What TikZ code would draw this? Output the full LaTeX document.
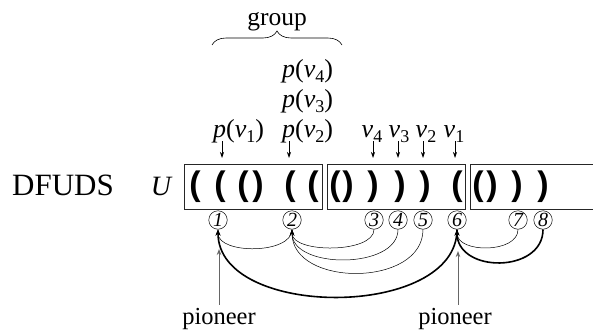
\documentclass[tikz,border=0pt]{standalone}
\usepackage{fontspec}
\setmainfont{Liberation Serif}
\newfontfamily\parfont{Liberation Sans}
\usetikzlibrary{arrows.meta,decorations.pathreplacing}
\newcommand{\sbx}[1]{\raisebox{-0.22em}{\fontsize{18}{20}\selectfont\upshape #1}}
\begin{document}
\begin{tikzpicture}[x=1pt,y=-1pt,
  lbl/.style={font=\fontsize{24.5}{28}\selectfont, inner sep=0, anchor=base},
  ilbl/.style={font=\fontsize{26}{30}\selectfont, inner sep=0},
  par/.style={font=\parfont\bfseries\fontsize{34}{40}\selectfont, inner sep=0},
  num/.style={draw, circle, minimum size=18.5, inner sep=0, font=\itshape\fontsize{20}{20}\selectfont, line width=0.5},
  thinarc/.style={line width=0.5, -{Stealth[length=6,width=4.5]}},
  thickarc/.style={line width=1.6, -{Stealth[length=6,width=5]}},
  ptr/.style={line width=0.7, -{Stealth[length=6,width=4]}},
  pion/.style={line width=1, draw=black!60, -{Stealth[length=6,width=4.5]}},
  boxline/.style={draw=black!85, line width=0.8}
]
\useasboundingbox (0,0) rectangle (593,332);
% labels
\node[lbl, font=\fontsize{31}{34}\selectfont] (dfuds) at (63,195) {DFUDS};
\node[lbl, font=\itshape\fontsize{28}{30}\selectfont] (U) at (161,195) {U};
\node[lbl, font=\fontsize{25.5}{28}\selectfont] (group) at (277,25) {group};
\draw[line width=0.6, decorate, decoration={brace, amplitude=14}] (212,45) -- (342,45);
\node[ilbl, anchor=base west] (pv4) at (282,77) {\textit{p}(\textit{v}\sbx{4})};
\node[ilbl, anchor=base west] (pv3) at (282,107) {\textit{p}(\textit{v}\sbx{3})};
\node[ilbl, anchor=base west] (pv2) at (282,137) {\textit{p}(\textit{v}\sbx{2})};
\node[ilbl, anchor=base west] (pv1) at (213,137) {\textit{p}(\textit{v}\sbx{1})};
\node[ilbl, anchor=base] (v4) at (372,137) {\textit{v}\sbx{4}};
\node[ilbl, anchor=base] (v3) at (399,137) {\textit{v}\sbx{3}};
\node[ilbl, anchor=base] (v2) at (426,137) {\textit{v}\sbx{2}};
\node[ilbl, anchor=base] (v1) at (454,137) {\textit{v}\sbx{1}};
% pointer arrows
\foreach \n/\x in {a/222,b/289,c/373,d/398,e/423,f/455}{
  \coordinate (\n s) at (\x,141);
  \coordinate (\n t) at (\x,158);
  \draw[ptr] (\n s) -- (\n t);
}
% boxes
\draw[boxline] (184,164) rectangle (322,209);
\draw[boxline] (327,164) rectangle (465,209);
\draw[boxline] (600,164) -- (470,164) -- (470,209) -- (600,209);
% parentheses
\foreach \n/\x/\c in {q1/195/(,q2/220/(,q3/243/(,q4/258/),q5/290/(,q6/313/(,
  q7/335/(,q8/348/),q9/373/),q10/400/),q11/425/),q12/457/(,
  q13/478/(,q14/492/),q15/517/),q16/543/)}{
  \node[par] (\n) at (\x,187) {\c};
}
% numbered circles
\foreach \i/\x in {1/218,2/292,3/374,4/398,5/423,6/457,7/518,8/543}{
  \node[num] (c\i) at (\x,220) {\i};
}
% arcs
\draw[thinarc] (c2.south) .. controls +(0,25) and +(0,25) .. (c1.south);
\draw[thinarc] (c3.south) .. controls +(0,24) and +(0,24) .. (c2.south);
\draw[thinarc] (c4.south) .. controls +(0,40) and +(0,40) .. (c2.south);
\draw[thinarc] (c5.south) .. controls +(0,58) and +(0,58) .. (c2.south);
\draw[thickarc] (c6.south) .. controls +(0,90) and +(0,90) .. (c1.south);
\draw[thinarc] (c7.south) .. controls +(0,24) and +(0,24) .. (c6.south);
\draw[thickarc] (c8.south) .. controls +(0,44) and +(0,44) .. (c6.south);
% pioneers
\node[lbl] (pl) at (219,324) {pioneer};
\node[lbl] (pr) at (455,324) {pioneer};
\coordinate (plt) at (219,249);
\coordinate (prt) at (458,251);
\draw[pion] (pl.north -| plt) ++(0,-3) -- (plt);
\draw[pion] (pr.north -| prt) ++(0,-3) -- (prt);
\end{tikzpicture}
\end{document}
